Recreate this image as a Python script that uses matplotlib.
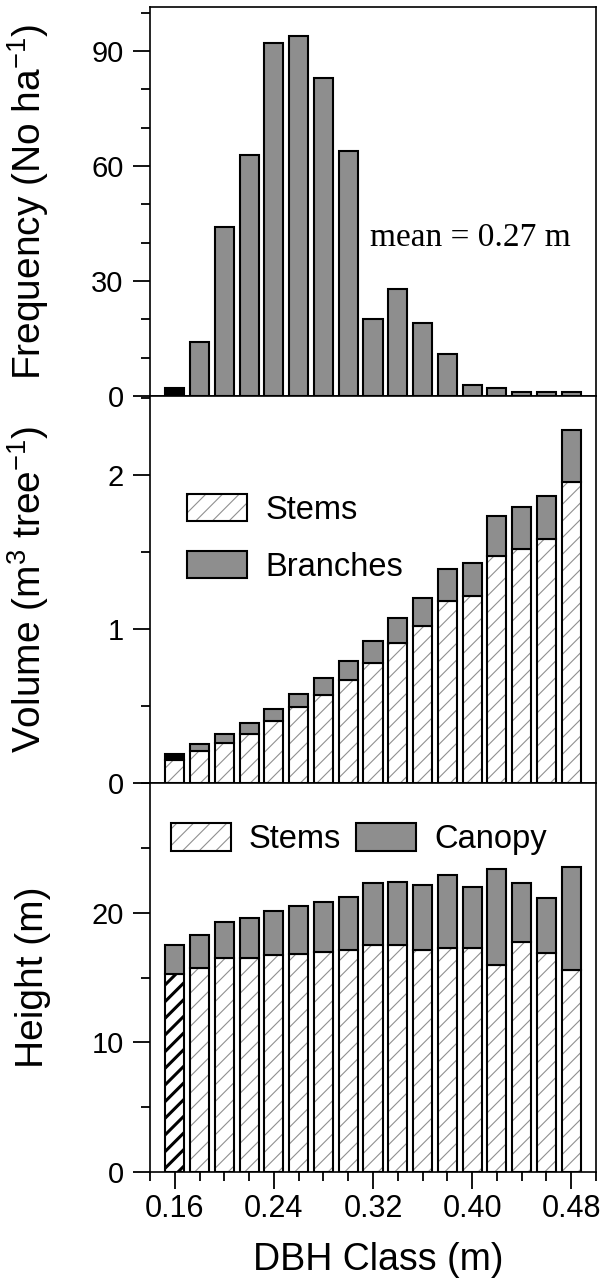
import matplotlib
matplotlib.use("Agg")
import matplotlib.pyplot as plt
from matplotlib.patches import Patch
from matplotlib.legend_handler import HandlerTuple
from matplotlib.ticker import MultipleLocator, FixedLocator
import numpy as np

plt.rcParams['font.family'] = ['Liberation Sans', 'DejaVu Sans']
plt.rcParams['mathtext.fontset'] = 'custom'
plt.rcParams['mathtext.rm'] = 'Liberation Sans'
plt.rcParams['mathtext.it'] = 'Liberation Sans:italic'
plt.rcParams['hatch.linewidth'] = 0.8

# ---------------- data ----------------
dbh = [0.16, 0.18, 0.20, 0.22, 0.24, 0.26, 0.28, 0.30, 0.32,
       0.34, 0.36, 0.38, 0.40, 0.42, 0.44, 0.46, 0.48]
freq = [2, 14, 44, 63, 92, 94, 83, 64, 20, 28, 19, 11, 3, 2, 1, 1, 1]
vol_stems = [0.15, 0.21, 0.26, 0.32, 0.40, 0.49, 0.57, 0.67, 0.78,
             0.91, 1.02, 1.18, 1.21, 1.47, 1.52, 1.58, 1.95]
vol_branches = [0.04, 0.04, 0.06, 0.07, 0.08, 0.09, 0.11, 0.12, 0.14,
                0.16, 0.18, 0.21, 0.22, 0.26, 0.27, 0.28, 0.34]
ht_stems = [15.3, 15.7, 16.5, 16.5, 16.7, 16.8, 17.0, 17.1, 17.5,
            17.5, 17.1, 17.3, 17.3, 16.0, 17.7, 16.9, 15.6]
ht_canopy = [2.2, 2.6, 2.8, 3.1, 3.4, 3.7, 3.8, 4.1, 4.8,
             4.9, 5.0, 5.6, 4.7, 7.4, 4.6, 4.2, 7.9]
xticks = [0.16, 0.24, 0.32, 0.40, 0.48]
xticklabels = ['0.16', '0.24', '0.32', '0.40', '0.48']
freq_ticks = [0, 30, 60, 90]
vol_ticks = [0, 1, 2]
ht_ticks = [0, 10, 20]

# ---------------- style ----------------
W = 0.0155
GRAY = '#8e8e8e'
HATCHC = '#909090'
LW = 1.5
FS_YTICK = 21
FS_XTICK = 22
FS_YLAB = 28
FS_XLAB = 27
FS_LEG = 23.5

fig = plt.figure(figsize=(6.12, 12.79), dpi=100)
L, Wd = 150 / 612, 446 / 612
ax1 = fig.add_axes([L, 1 - 396 / 1279, Wd, 389 / 1279])
ax2 = fig.add_axes([L, 1 - 783 / 1279, Wd, 387 / 1279], sharex=ax1)
ax3 = fig.add_axes([L, 1 - 1172 / 1279, Wd, 389 / 1279], sharex=ax1)

x = np.array(dbh)


def hatched(ax, x, h, bottom=None, bold_first=False):
    for i, (xi, hi) in enumerate(zip(x, h)):
        b = 0 if bottom is None else bottom[i]
        if bold_first and i == 0:
            with plt.rc_context({'hatch.linewidth': 2.2}):
                ax.bar(xi, hi, W, bottom=b, color='white', edgecolor='black',
                       hatch='//', linewidth=0)
        else:
            ax.bar(xi, hi, W, bottom=b, color='white', edgecolor=HATCHC,
                   hatch='//', linewidth=0)
    ax.bar(x, h, W, bottom=bottom, fill=False, edgecolor='black', linewidth=LW)


# ---- top panel: frequency ----
fcolors = ['black'] + [GRAY] * (len(freq) - 1)
ax1.bar(x, freq, W, color=fcolors, edgecolor='black', linewidth=LW)
ax1.set_ylim(0, 101.5)
ax1.yaxis.set_major_locator(FixedLocator(freq_ticks))
ax1.yaxis.set_minor_locator(MultipleLocator(10))
ax1.set_ylabel('Frequency (No ha$^{\\mathrm{-1}}$)', fontsize=FS_YLAB)
ax1.text(0.493, 0.406, 'mean = 0.27 m', transform=ax1.transAxes,
         fontsize=24, family='Liberation Serif', ha='left', va='center')

# ---- middle panel: volume ----
hatched(ax2, x, vol_stems)
bcolors = ['black'] + [GRAY] * (len(vol_branches) - 1)
ax2.bar(x, vol_branches, W, bottom=vol_stems, color=bcolors,
        edgecolor='black', linewidth=LW)
ax2.set_ylim(0, 2.51)
ax2.yaxis.set_major_locator(FixedLocator(vol_ticks))
ax2.yaxis.set_minor_locator(MultipleLocator(0.5))
ax2.set_ylabel('Volume (m$^{\\mathrm{3}}$ tree$^{\\mathrm{-1}}$)', fontsize=FS_YLAB)

stem_handle = (Patch(facecolor='white', edgecolor=HATCHC, hatch='//', linewidth=0),
               Patch(fill=False, edgecolor='black', linewidth=LW))
gray_handle = Patch(facecolor=GRAY, edgecolor='black', linewidth=LW)
ax2.legend([stem_handle, gray_handle], ['Stems', 'Branches'],
           handler_map={tuple: HandlerTuple(ndivide=1)},
           loc='upper left', bbox_to_anchor=(0.084, 0.746), frameon=False,
           fontsize=FS_LEG, handlelength=1.83, handleheight=0.9,
           handletextpad=0.56, labelspacing=0.77, borderpad=0, borderaxespad=0)

# ---- bottom panel: height ----
hatched(ax3, x, ht_stems, bold_first=True)
ax3.bar(x, ht_canopy, W, bottom=ht_stems, color=GRAY,
        edgecolor='black', linewidth=LW)
ax3.set_ylim(0, 30)
ax3.yaxis.set_major_locator(FixedLocator(ht_ticks))
ax3.yaxis.set_minor_locator(MultipleLocator(5))
ax3.set_ylabel('Height (m)', fontsize=FS_YLAB)
ax3.legend([stem_handle, gray_handle], ['Stems', 'Canopy'],
           handler_map={tuple: HandlerTuple(ndivide=1)}, ncol=2,
           loc='upper left', bbox_to_anchor=(0.047, 0.896), frameon=False,
           fontsize=FS_LEG, handlelength=1.83, handleheight=0.9,
           handletextpad=0.56, columnspacing=0.45, borderpad=0, borderaxespad=0)

ax3.set_xlim(0.14, 0.50)
ax3.xaxis.set_major_locator(FixedLocator(xticks))
ax3.set_xticklabels(xticklabels)
ax3.xaxis.set_minor_locator(MultipleLocator(0.02))
ax3.set_xlabel('DBH Class (m)', fontsize=FS_XLAB, va='baseline')
ax3.xaxis.set_label_coords(0.511, -0.252)

for ax in (ax1, ax2, ax3):
    for s in ax.spines.values():
        s.set_linewidth(1.2)
    ax.tick_params(axis='y', which='major', direction='out', length=12,
                   width=1.3, labelsize=FS_YTICK, pad=7, right=False)
    ax.tick_params(axis='y', which='minor', direction='out', length=6.5,
                   width=1.3, right=False)
    ax.yaxis.set_label_coords(-0.222, 0.5)
for ax in (ax1, ax2):
    ax.tick_params(axis='x', which='both', bottom=False, top=False,
                   labelbottom=False)
ax3.tick_params(axis='x', which='major', direction='out', length=12,
                width=1.3, labelsize=FS_XTICK, pad=4, top=False)
ax3.tick_params(axis='x', which='minor', direction='out', length=6.5,
                width=1.3, top=False)

fig.savefig('out.png', dpi=100)
